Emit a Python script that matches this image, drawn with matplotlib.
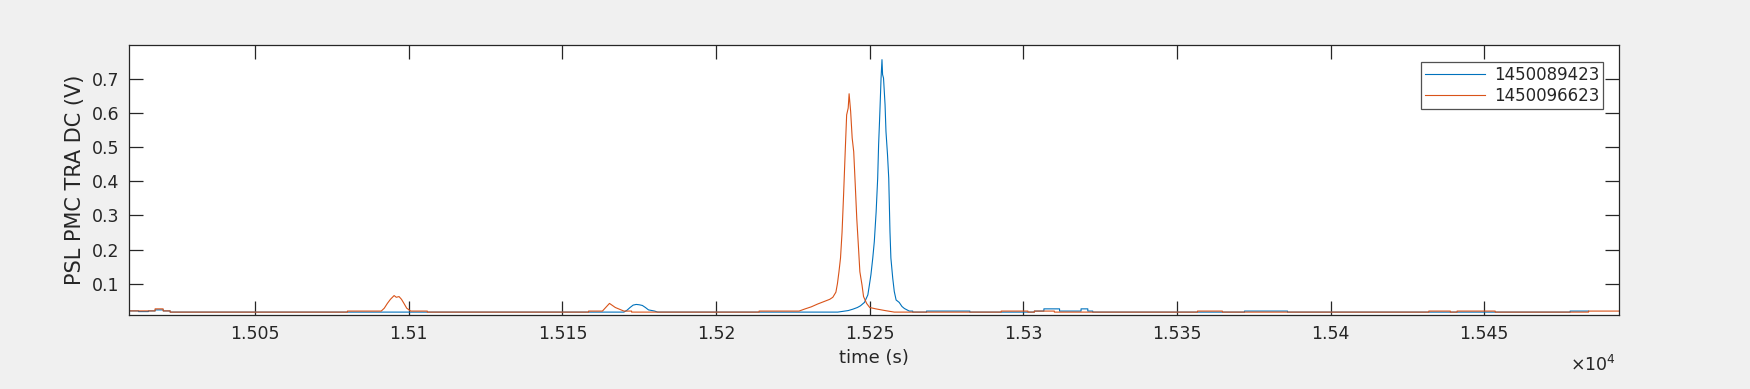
import matplotlib
matplotlib.use("Agg")
import matplotlib.pyplot as plt

# ---- data ----
series_labels = ["1450089423", "1450096623"]

# (time s, PSL PMC TRA DC V) samples; repeated times mark level jumps
blue_points = [
    (15009.0, 0.020), (15012.0, 0.020), (15012.0, 0.018), (15015.2, 0.018), (15015.2, 0.020),
    (15017.4, 0.020), (15017.4, 0.023), (15020.1, 0.023), (15020.1, 0.020), (15022.3, 0.020),
    (15022.3, 0.0165),
    (15170.0, 0.0165), (15171.0, 0.022), (15172.0, 0.030), (15173.0, 0.037), (15174.0, 0.039),
    (15175.0, 0.038), (15176.0, 0.036), (15177.0, 0.030), (15178.0, 0.023), (15180.0, 0.0195),
    (15181.0, 0.0165),
    (15239.6, 0.0165), (15241.5, 0.019), (15243.0, 0.021), (15244.5, 0.025), (15246.0, 0.030),
    (15247.0, 0.035), (15248.3, 0.045), (15249.4, 0.067), (15249.9, 0.096), (15250.4, 0.126),
    (15251.0, 0.175), (15251.5, 0.223), (15252.1, 0.311), (15252.6, 0.409), (15252.9, 0.507),
    (15253.2, 0.576), (15253.4, 0.625), (15253.7, 0.703), (15254.0, 0.757), (15254.2, 0.713),
    (15254.5, 0.703), (15255.0, 0.625), (15255.3, 0.546), (15255.8, 0.478), (15256.2, 0.409),
    (15256.4, 0.331), (15256.6, 0.253), (15256.9, 0.175), (15257.5, 0.116), (15258.0, 0.077),
    (15258.6, 0.052), (15259.6, 0.045), (15260.5, 0.033), (15261.3, 0.027), (15262.9, 0.0195),
    (15264.0, 0.0195), (15264.0, 0.0165),
    (15268.5, 0.0165), (15268.5, 0.0195), (15282.6, 0.0195), (15282.6, 0.0165),
    (15303.6, 0.0165), (15303.6, 0.0195), (15306.7, 0.0195), (15306.7, 0.026),
    (15311.8, 0.026), (15311.8, 0.0195), (15318.8, 0.0195), (15318.8, 0.026),
    (15321.0, 0.026), (15321.0, 0.0195), (15322.6, 0.0195), (15322.6, 0.0165),
    (15372.0, 0.0165), (15372.0, 0.0195), (15386.0, 0.0195), (15386.0, 0.0165),
    (15478.0, 0.0165), (15478.0, 0.0195), (15484.0, 0.0195),
]

orange_points = [
    (15009.0, 0.020), (15017.4, 0.020), (15017.4, 0.026), (15020.0, 0.026), (15020.0, 0.020),
    (15022.3, 0.020), (15022.3, 0.0165),
    (15080.0, 0.0165), (15080.0, 0.0195), (15091.0, 0.0195), (15092.0, 0.028), (15093.0, 0.042),
    (15094.0, 0.054), (15095.2, 0.065), (15095.9, 0.060), (15096.8, 0.062), (15097.6, 0.054),
    (15098.4, 0.042), (15099.3, 0.028), (15100.6, 0.0195), (15106.0, 0.0195), (15106.0, 0.0165),
    (15158.5, 0.0165), (15158.5, 0.0195), (15163.0, 0.0195), (15165.3, 0.042), (15167.2, 0.030),
    (15168.8, 0.024), (15170.0, 0.0195), (15172.5, 0.0195), (15172.5, 0.0165),
    (15214.0, 0.0165), (15214.0, 0.0195), (15227.0, 0.0195), (15229.0, 0.026), (15231.0, 0.032),
    (15233.0, 0.040), (15235.0, 0.047), (15237.0, 0.054), (15238.0, 0.060), (15239.0, 0.075),
    (15239.5, 0.100), (15240.0, 0.135), (15240.5, 0.175), (15241.0, 0.250), (15241.5, 0.360),
    (15242.0, 0.480), (15242.5, 0.595), (15243.0, 0.615), (15243.3, 0.657), (15243.8, 0.605),
    (15244.3, 0.527), (15244.8, 0.487), (15245.3, 0.390), (15245.8, 0.290), (15246.3, 0.214),
    (15246.8, 0.135), (15247.5, 0.096), (15248.0, 0.062), (15249.0, 0.042), (15250.0, 0.030),
    (15252.0, 0.026), (15255.0, 0.021), (15258.0, 0.0165),
    (15292.8, 0.0165), (15292.8, 0.0195), (15301.5, 0.0195), (15301.5, 0.0165),
    (15303.6, 0.0165), (15303.6, 0.0195), (15310.1, 0.0195), (15310.1, 0.0165),
    (15356.7, 0.0165), (15356.7, 0.0195), (15364.8, 0.0195), (15364.8, 0.0165),
    (15432.0, 0.0165), (15432.0, 0.0195), (15439.0, 0.0195), (15439.0, 0.0165),
    (15441.2, 0.0165), (15441.2, 0.0195), (15453.6, 0.0195), (15453.6, 0.0165),
    (15484.0, 0.0165), (15484.0, 0.0195), (15494.0, 0.0195),
]

blue_t, blue_v = zip(*blue_points)
orange_t, orange_v = zip(*orange_points)

xtick_vals = [15050, 15100, 15150, 15200, 15250, 15300, 15350, 15400, 15450]
xtick_labels = ["1.505", "1.51", "1.515", "1.52", "1.525", "1.53", "1.535", "1.54", "1.545"]
ytick_vals = [0.1, 0.2, 0.3, 0.4, 0.5, 0.6, 0.7]
ytick_labels = ["0.1", "0.2", "0.3", "0.4", "0.5", "0.6", "0.7"]

# ---- styling ----
plt.rcParams['font.family'] = ['DejaVu Sans']
axcol = '#262626'
fig = plt.figure(figsize=(17.5, 3.89), dpi=100, facecolor='#f0f0f0')
ax = fig.add_axes([129.3 / 1750, 74 / 389, 1490 / 1750, 270 / 389])
ax.set_facecolor('white')

ax.plot(blue_t, blue_v, color='#0072BD', lw=0.8, label=series_labels[0])
ax.plot(orange_t, orange_v, color='#D95319', lw=0.8, label=series_labels[1])

ax.set_xlim(15009, 15494)
ax.set_ylim(0.008, 0.80)
ax.set_xticks(xtick_vals)
ax.set_xticklabels(xtick_labels)
ax.set_yticks(ytick_vals)
ax.set_yticklabels(ytick_labels)

for s in ax.spines.values():
    s.set_color(axcol)
    s.set_linewidth(0.9)
ax.tick_params(direction='in', length=10.2, width=0.9, color=axcol, labelcolor=axcol,
               labelsize=12.5, top=True, right=True)
ax.tick_params(axis='x', pad=7.5)
ax.tick_params(axis='y', pad=7)

ax.set_xlabel('time (s)', fontsize=13, color=axcol, labelpad=4)
ax.set_ylabel('PSL PMC TRA DC (V)', fontsize=15, color=axcol)
ax.yaxis.set_label_coords(-0.0299, 0.5)

ax.text(0.998, -0.185, r'$\times\mathregular{10^{4}}$', transform=ax.transAxes, ha='right',
        va='center', fontsize=12.5, color=axcol)

leg = ax.legend(loc='upper right', bbox_to_anchor=(0.9893, 0.938), borderaxespad=0,
                fontsize=12, frameon=True, fancybox=False, handlelength=3.6,
                handletextpad=0.5, borderpad=0.25, labelspacing=0.2)
leg.get_frame().set_edgecolor(axcol)
leg.get_frame().set_linewidth(0.9)
for t in leg.get_texts():
    t.set_color(axcol)

fig.savefig('out.png', dpi=100, facecolor=fig.get_facecolor())
